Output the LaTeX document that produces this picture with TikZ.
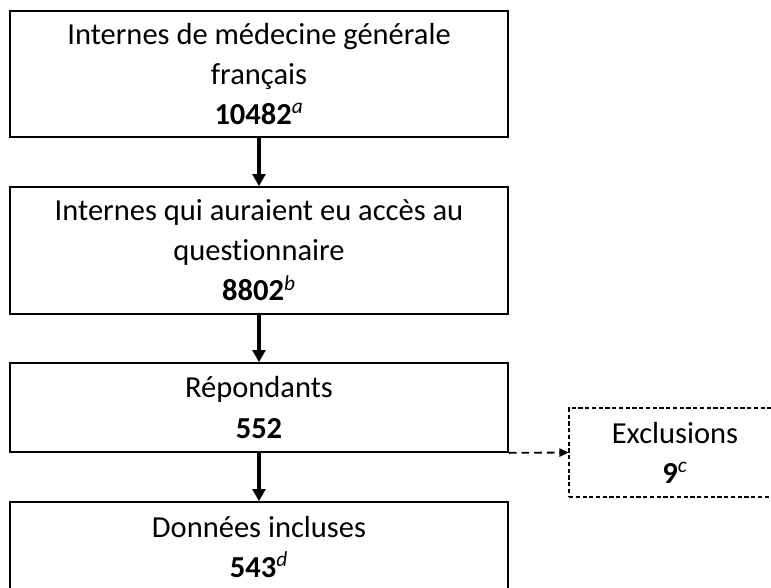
\documentclass[tikz,border=0pt]{standalone}
\usepackage{fontspec}
\setmainfont{Carlito}[Ligatures=NoCommon]
\usepackage{tikz}
\usetikzlibrary{arrows.meta}

\tikzset{
    etape/.style={draw, line width=1.2pt, align=center, inner sep=0pt,
        font=\fontsize{21.7}{28.5}\selectfont},
    sortie/.style={draw, line width=0.8pt, dash pattern=on 3pt off 1.8pt,
        align=center, inner sep=0pt, font=\fontsize{21.7}{28.5}\selectfont},
    fleche/.style={-{Triangle[length=8.5pt, width=9pt]}, line width=2.8pt},
}

\begin{document}
\begin{tikzpicture}
            \useasboundingbox (0, 0) rectangle (19.275, -14.7);

            \node[etape, minimum width=12.45cm, minimum height=3.15cm] (0) at (6.475, -1.85) {
                Internes de médecine générale
                \\
                français
                \\
                \textbf{10482}\textsuperscript{\textit{a}}
            };
            \node[etape, minimum width=12.45cm, minimum height=3.175cm] (1) at (6.475, -6.2625) {
                Internes qui auraient eu accès au
                \\
                questionnaire
                \\
                \textbf{8802}\textsuperscript{\textit{b}}
            };
            \node[etape, minimum width=12.45cm, minimum height=2.225cm] (2) at (6.475, -10.1875) {
                Répondants
                \\
                \textbf{552}
            };
            \node[etape, minimum width=12.45cm, minimum height=2.25cm] (3) at (6.475, -13.675) {
                Données incluses
                \\
                \textbf{543}\textsuperscript{\textit{d}}
            };
            \node[sortie, minimum width=5.3cm, minimum height=2.225cm] (4) at (16.875, -11.3125) {
                Exclusions
                \\
                \textbf{9}\textsuperscript{\textit{c}}
            };

            \draw[fleche] (0) to (1);
            \draw[fleche] (1) to (2);
            \draw[fleche] (2) to (3);
            \draw[-{Triangle[length=6.5pt, width=6pt]}, line width=1.3pt,
                dash pattern=on 5.5pt off 3.5pt] (2.south east) to (4.west);
        \end{tikzpicture}
\end{document}
